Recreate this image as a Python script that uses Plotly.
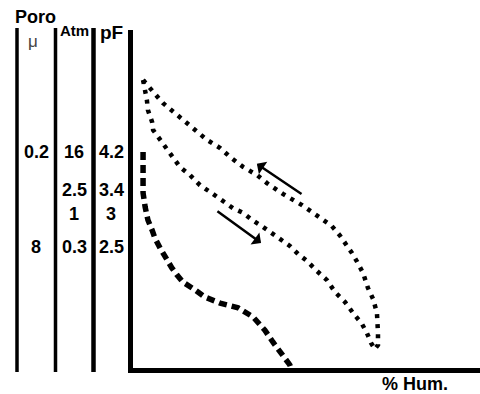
import plotly.graph_objects as go

# ---- data (x: % humidity scale 0-100, y: suction scale 0-100) ----
upper_x = [2.9, 5.8, 8.6, 12.7, 15.6, 18.4, 21.3, 25.1, 28.0, 31.7, 35.7, 38.6, 43.2, 48.7, 51.6,
           53.9, 57.3, 59.7, 61.7, 63.1, 64.6, 66.3, 67.7, 69.2, 70.3, 70.6, 70.6, 70.6, 69.7]
upper_y = [85.2, 81.7, 78.4, 74.9, 72.5, 69.8, 67.5, 65.1, 62.4, 59.5, 57.1, 54.7, 51.5, 48.2, 46.2,
           44.4, 42.0, 39.1, 36.4, 34.0, 31.4, 28.1, 23.7, 20.4, 16.3, 13.3, 10.4, 6.8, 5.6]

lower_x = [2.9, 3.5, 4.0, 4.3, 5.5, 5.8, 7.8, 9.8, 11.5, 13.5, 16.4, 19.3, 22.2, 24.5, 26.5, 28.8,
           31.7, 34.3, 37.5, 41.5, 45.2, 47.6, 50.1, 53.0, 55.9, 58.2, 61.1, 63.4, 66.0, 67.4, 68.6, 69.7]
lower_y = [85.2, 82.2, 79.3, 76.3, 72.8, 70.4, 67.5, 64.5, 62.1, 59.5, 57.1, 54.1, 52.1, 50.3, 48.8, 47.3,
           45.9, 43.8, 41.7, 38.8, 36.1, 33.7, 31.7, 28.7, 26.0, 22.5, 19.5, 16.3, 13.0, 10.4, 7.4, 5.6]

dash_x = [2.9, 2.9, 2.9, 3.5, 4.3, 5.5, 6.3, 7.8, 9.2, 11.2, 12.7, 14.4, 17.9, 20.7, 25.1, 30.3,
          34.6, 38.0, 40.3, 42.9, 45.2, 45.5]
dash_y = [63.9, 57.7, 51.8, 47.6, 43.8, 40.8, 38.5, 35.5, 32.8, 29.6, 27.5, 25.4, 23.1, 21.0, 19.2, 17.8,
          15.1, 11.2, 7.7, 4.4, 0.9, 0.0]

# arrows: (tail_x, tail_y, head_x, head_y)
arrow_up = (49.0, 51.2, 35.7, 60.4)
arrow_down = (23.9, 46.7, 36.9, 37.0)

# table
col_headers = ["Poro", "Atm", "pF"]
poro_unit = "μ"
row_levels = [63.9, 52.7, 45.6, 35.8]
poro_vals = ["0.2", "", "", "8"]
atm_vals = ["16", "2.5", "1", "0.3"]
pf_vals = ["4.2", "3.4", "3", "2.5"]
x_label = "% Hum."

W, H = 480, 394
FONT = "Liberation Sans, Arial, sans-serif"

fig = go.Figure()
fig.add_trace(go.Scatter(x=upper_x, y=upper_y, mode="lines",
                         line=dict(color="black", width=4.5, dash="4px,6px")))
fig.add_trace(go.Scatter(x=lower_x, y=lower_y, mode="lines",
                         line=dict(color="black", width=4.5, dash="4px,6px")))
fig.add_trace(go.Scatter(x=dash_x, y=dash_y, mode="lines",
                         line=dict(color="black", width=5.5, dash="8px,5px")))

ann = []
for a in (arrow_up, arrow_down):
    ann.append(dict(x=a[2], y=a[3], ax=a[0], ay=a[1], xref="x", yref="y", axref="x", ayref="y",
                    text="", showarrow=True, arrowhead=1, arrowsize=1.0, arrowwidth=2.5,
                    arrowcolor="black", standoff=0, startstandoff=0))

def px(xp):
    return xp / W

def py(yp):
    return (H - yp) / H

bold = dict(family=FONT, color="black")
C = dict(xanchor="center", yanchor="middle", showarrow=False)
ann.append(dict(x=px(35), y=py(17), xref="paper", yref="paper", text="<b>%s</b>" % col_headers[0],
                font=dict(size=18, **bold), **C))
ann.append(dict(x=px(74), y=py(31), xref="paper", yref="paper", text="<b>%s</b>" % col_headers[1],
                font=dict(size=15, **bold), **C))
ann.append(dict(x=px(111), y=py(32), xref="paper", yref="paper", text="<b>%s</b>" % col_headers[2],
                font=dict(size=19, **bold), **C))
ann.append(dict(x=px(33), y=py(42), xref="paper", yref="paper", text=poro_unit,
                font=dict(size=17, family=FONT, color="#444"), **C))

for cx, vals in ((36, poro_vals), (74, atm_vals), (111, pf_vals)):
    for lvl, v in zip(row_levels, vals):
        if v:
            ann.append(dict(x=px(cx), y=lvl, xref="paper", yref="y", text="<b>%s</b>" % v,
                            font=dict(size=18, **bold), **C))

ann.append(dict(x=px(415), y=py(384), xref="paper", yref="paper", text="<b>%s</b>" % x_label,
                font=dict(size=18, **bold), **C))

shapes = []
for xl, wl in ((17, 3.5), (55.5, 3.5), (93.5, 4.5)):
    shapes.append(dict(type="line", xref="paper", yref="paper", x0=px(xl), x1=px(xl),
                       y0=py(28), y1=py(372), line=dict(color="black", width=wl)))

fig.update_layout(
    width=W, height=H, margin=dict(l=0, r=0, t=0, b=0),
    paper_bgcolor="white", plot_bgcolor="white", showlegend=False,
    xaxis=dict(domain=[133 / W, 1], range=[0, 100], showgrid=False, zeroline=False,
               showticklabels=False, ticks="", showline=True, linecolor="black", linewidth=4.5),
    yaxis=dict(domain=[(H - 368) / H, (H - 30) / H], range=[0, 100], showgrid=False, zeroline=False,
               showticklabels=False, ticks="", showline=True, linecolor="black", linewidth=4.5),
    annotations=ann, shapes=shapes,
)

fig.write_html("out.html")
